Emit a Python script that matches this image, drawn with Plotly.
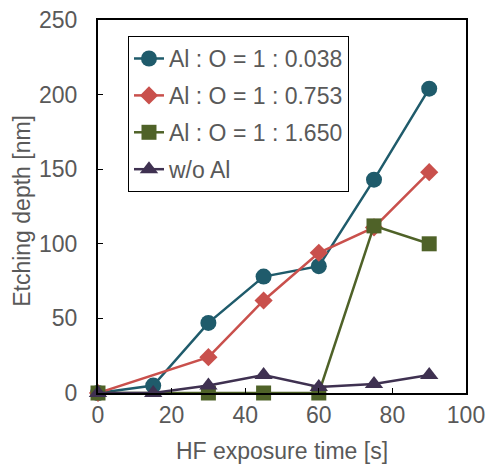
import plotly.graph_objects as go

time_1 = [0, 15, 30, 45, 60, 75, 90]
depth_1 = [0, 5, 47, 78, 85, 143, 204]

time_2 = [0, 30, 45, 60, 75, 90]
depth_2 = [0, 24, 62, 94, 111, 148]

time_3 = [0, 30, 45, 60, 75, 90]
depth_3 = [0, 0, 0, 0, 112, 100]

time_4 = [0, 15, 30, 45, 60, 75, 90]
depth_4 = [0, 0, 5, 12, 4, 6, 12]

names = ["Al : O = 1 : 0.038", "Al : O = 1 : 0.753", "Al : O = 1 : 1.650", "w/o Al"]

series = [
    (time_1, depth_1, "#1F5B6B", "circle", 16),
    (time_2, depth_2, "#C9504C", "diamond", 14),
    (time_3, depth_3, "#4F6228", "square", 15),
    (time_4, depth_4, "#3F3151", "triangle-up", 16),
]

fig = go.Figure()
for i, ((x, y, c, sym, sz), n) in enumerate(zip(series, names)):
    fig.add_trace(go.Scatter(
        x=x, y=y, name=n, mode="lines+markers", legendgroup=f"g{i}",
        line=dict(color=c, width=2.5),
        marker=dict(color=c, symbol=sym, size=sz),
        cliponaxis=False,
    ))

font_c = "#595959"
fs = 23
fig.update_layout(
    width=487, height=468,
    margin=dict(l=98, r=21, t=20, b=75),
    paper_bgcolor="white", plot_bgcolor="white",
    font=dict(family="Liberation Sans, Arial, sans-serif", size=fs, color=font_c),
    showlegend=True,
    legend=dict(x=0.0815, y=0.957, xanchor="left", yanchor="top",
                bordercolor="black", borderwidth=1, bgcolor="white",
                font=dict(size=fs, color=font_c), itemwidth=30,
                tracegroupgap=4),
    xaxis=dict(range=[0, 100], tickvals=[0, 20, 40, 60, 80, 100],
               showgrid=False, zeroline=False, showline=True, linecolor="black",
               linewidth=2, mirror=True, ticks="inside", ticklen=5, tickcolor="black",
               automargin=False, ticklabeloverflow="allow",
               title=dict(text="HF exposure time [s]", font=dict(size=fs, color=font_c), standoff=16)),
    yaxis=dict(range=[0, 250], tickvals=[0, 50, 100, 150, 200, 250],
               showgrid=False, zeroline=False, showline=True, linecolor="black",
               linewidth=2, mirror=True, ticks="inside", ticklen=5, tickcolor="black",
               automargin=False, ticklabelstandoff=14, ticklabeloverflow="allow"),
    annotations=[dict(text="Etching depth [nm]", textangle=-90, xref="paper", yref="paper",
                      x=-0.207, y=0.488, xanchor="center", yanchor="middle", showarrow=False,
                      font=dict(size=fs, color=font_c))],
)

fig.write_html("out.html", post_script="document.body.style.margin='0';",
               config={"displayModeBar": False})
